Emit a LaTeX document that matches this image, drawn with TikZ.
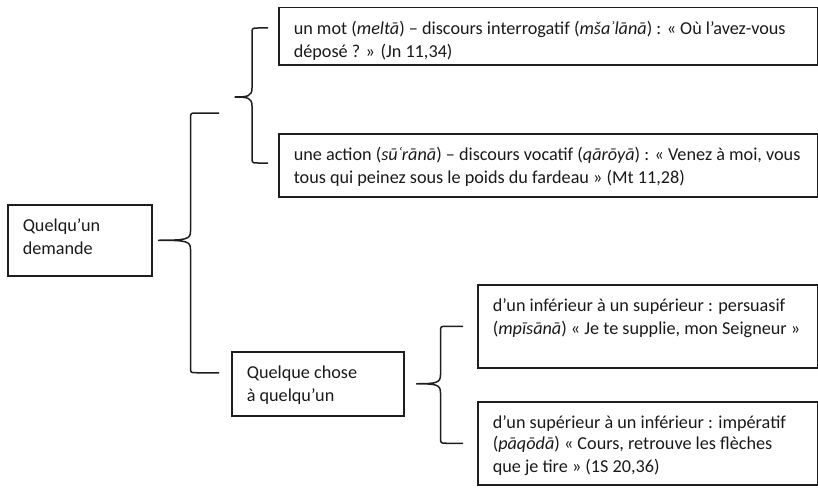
\documentclass[tikz,border=0pt]{standalone}
\usepackage{fontspec}
\setmainfont{Carlito}
\usetikzlibrary{calc}
\definecolor{ink}{HTML}{1E1E1E}
\definecolor{txt}{HTML}{1A1A1A}
\newcommand\boxtext[3]{\parbox[c][#1pt][t]{#2pt}{\raggedright\rule{0pt}{18.5pt}#3}}
\newcommand\curly[4]{%
  \draw[conn] let \p1=(#1), \p2=(#2), \p3=(#3), \p4=($(#1)+(#4,0)$) in
    (\p2) -- (\x4+6pt,\y2) .. controls (\x4,\y2) .. (\x4,\y2-6pt)
    -- (\x4,\y1+9pt) .. controls (\x4,\y1+1pt) and (\x4-4pt,\y1) .. (\p1)
    .. controls (\x4-4pt,\y1) and (\x4,\y1-1pt) .. (\x4,\y1-9pt)
    -- (\x4,\y3+6pt) .. controls (\x4,\y3) .. (\x4+6pt,\y3) -- (\p3);}
\tikzset{
  box/.style={draw=ink, line width=1.5pt, anchor=north west, inner xsep=15pt,
    inner ysep=8.6pt, text=txt, font=\fontsize{18.2}{23}\selectfont},
  conn/.style={draw=ink, line width=1.5pt, line join=round}
}
\begin{document}
\begin{tikzpicture}[x=1pt,y=-1pt]
\useasboundingbox (0,0) rectangle (818,487);
% boxes
\node[box] (b1) at (278,7) {\boxtext{39.8}{509}{un mot (\textit{meltā}) – discours interrogatif (\textit{mšaʾlānā}) : « Où l’avez-vous\\ déposé ? » (Jn 11,34)}};
\node[box] (b2) at (278,133) {\boxtext{45.8}{509}{une action (\textit{sūʿrānā}) – discours vocatif (\textit{qārōyā}) : « Venez à moi, vous\\ tous qui peinez sous le poids du fardeau » (Mt 11,28)}};
\node[box] (q1) at (7,204) {\boxtext{53.8}{114}{Quelqu’un\\ demande}};
\node[box] (q2) at (231,351) {\boxtext{46.8}{142}{Quelque chose\\ à quelqu’un}};
\node[box] (b3) at (477,284) {\boxtext{65.8}{310}{d’un inférieur à un supérieur : persuasif\\ (\textit{mpīsānā}) « Je te supplie, mon Seigneur »}};
\node[box] (b4) at (477,401) {\boxtext{65.8}{310}{\vspace{-2pt}d’un supérieur à un inférieur : impératif\\ (\textit{pāqōdā}) « Cours, retrouve les flèches\\ que je tire » (1S 20,36)}};
% brace anchors
\coordinate (t1) at (235,97);
\coordinate (e1a) at (268,28);
\coordinate (e1b) at (268,163);
\coordinate (t2) at ($(q1.east)+(6,0)$);
\coordinate (e2a) at (219,113);
\coordinate (e2b) at ($(q2.west)+(-12,-11)$);
\coordinate (t3) at ($(q2.east)+(12,0)$);
\coordinate (e3a) at ($(b3.west)+(-14,0)$);
\coordinate (e3b) at ($(b4.west)+(-14,0)$);
% braces
\curly{t1}{e1a}{e1b}{17}
\curly{t2}{e2a}{e2b}{32}
\curly{t3}{e3a}{e3b}{24}
\end{tikzpicture}
\end{document}
